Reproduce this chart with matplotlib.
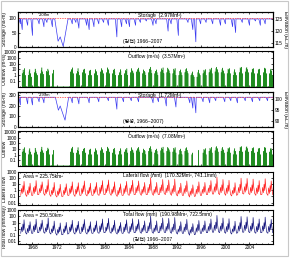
import matplotlib
matplotlib.use("Agg")
import matplotlib.pyplot as plt
import numpy as np
from matplotlib.ticker import FixedLocator, NullFormatter

plt.rcParams['font.family'] = ['Liberation Sans', 'Noto Sans CJK KR']
plt.rcParams['font.size'] = 4

# ---- data ----
years = np.arange(1966, 2008)

# reservoir 1 (storage, ha-m): drawdown dips below the full level
s1_full = 97
s1_dip_t = [1966.0, 1966.3, 1967.2, 1968.0, 1969.1, 1969.9, 1970.4, 1971.3, 1974.6, 1975.2,
            1975.7, 1977.0, 1977.4, 1978.2, 1979.0, 1979.8, 1980.6, 1982.0, 1982.8, 1983.6,
            1984.1, 1985.1, 1985.9, 1986.9, 1988.0, 1988.5, 1990.5, 1991.0, 1992.2, 1993.8,
            1994.6, 1995.1, 1995.9, 1996.8, 1997.9, 1999.2, 2000.0, 2001.2, 2001.7, 2002.8,
            2004.0, 2005.0, 2005.8, 2006.6]
s1_dip_v = [80, 60, 75, 40, 80, 70, 85, 70, 80, 85,
            65, 75, 60, 70, 80, 85, 75, 35, 70, 80,
            70, 75, 85, 90, 75, 80, 55, 80, 40, 85,
            60, 18, 80, 85, 80, 75, 80, 70, 50, 85,
            75, 90, 75, 80]
s1_drought_t = [1971.7, 1972.25, 1972.6, 1973.1, 1973.9]
s1_drought_v = [97, 20, 35, 2, 97]

# reservoir 2 (storage, ha-m)
s2_full = 283
s2_dip_t = [1966.0, 1967.2, 1968.0, 1969.1, 1969.9, 1974.6, 1975.7, 1977.4, 1979.0, 1980.6,
            1982.0, 1983.1, 1984.4, 1985.6, 1988.0, 1988.9, 1990.2, 1991.8, 1994.1, 1994.6,
            1995.1, 1996.3, 1997.4, 1998.4, 1999.9, 2000.9, 2002.0, 2003.3, 2004.5, 2005.7,
            2007.0]
s2_dip_v = [210, 220, 210, 240, 230, 230, 220, 230, 240, 250,
            170, 240, 250, 240, 230, 240, 200, 190, 230, 180,
            135, 240, 230, 250, 240, 250, 230, 250, 240, 250,
            250]
s2_drought_t = [1971.8, 1972.3, 1972.6, 1973.4, 1974.0]
s2_drought_v = [283, 160, 200, 65, 283]

el1_ticks = [115, 120, 125]
el2_ticks = [90, 95, 100]

# outflow (m3/s): spikes within each year, 0 = no release
spike_pos = [0.3, 0.45, 0.56, 0.66, 0.8]
outflow1 = [
    [2, 8, 3, 15, 1], [1, 4, 10, 2, 0.5], [3, 12, 5, 2, 1], [2, 6, 20, 4, 1.5],
    [5, 3, 12, 6, 1], [2, 8, 0, 0, 0], [0, 0, 0, 0, 0], [0, 0, 0, 0, 0],
    [4, 10, 6, 20, 2], [2, 5, 15, 3, 1], [3, 9, 4, 12, 2], [1, 6, 3, 8, 1],
    [2, 10, 5, 3, 1], [4, 15, 8, 5, 2], [3, 20, 10, 6, 2], [2, 8, 12, 4, 1],
    [1, 3, 10, 5, 1], [2, 7, 4, 12, 1], [3, 15, 6, 4, 2], [4, 10, 18, 6, 3],
    [2, 9, 5, 3, 1], [3, 12, 25, 8, 2], [2, 5, 9, 3, 1], [4, 14, 7, 20, 2],
    [3, 18, 10, 6, 2], [2, 12, 6, 15, 1], [1, 5, 9, 3, 1], [3, 10, 15, 5, 2],
    [1, 2, 4, 1, 0.5], [0.5, 3, 8, 2, 1], [2, 8, 4, 10, 1], [3, 12, 6, 18, 2],
    [4, 15, 25, 10, 3], [3, 10, 18, 6, 2], [2, 12, 8, 15, 2], [1, 4, 10, 3, 1],
    [3, 20, 12, 25, 2], [4, 15, 22, 10, 3], [3, 12, 8, 15, 2], [2, 10, 6, 12, 1],
    [3, 18, 9, 14, 2], [2, 8, 12, 5, 1],
]
outflow2 = [
    [3, 10, 4, 18, 2], [1, 5, 12, 3, 1], [2, 14, 6, 3, 1], [3, 8, 22, 5, 2],
    [4, 5, 15, 8, 1], [1, 6, 0, 0, 0], [0, 0, 0, 0, 0], [0, 0, 0, 0, 0],
    [3, 12, 8, 22, 2], [2, 6, 18, 4, 1], [4, 10, 5, 14, 2], [1, 7, 4, 10, 1],
    [3, 12, 6, 4, 1], [5, 18, 9, 6, 2], [4, 22, 12, 7, 3], [2, 9, 14, 5, 1],
    [1, 4, 12, 6, 1], [3, 8, 5, 14, 2], [4, 18, 7, 5, 2], [5, 12, 20, 7, 3],
    [2, 10, 6, 4, 1], [4, 14, 28, 9, 3], [2, 6, 10, 4, 1], [5, 16, 8, 22, 2],
    [4, 20, 12, 7, 3], [3, 14, 7, 18, 2], [1, 6, 10, 4, 1], [4, 12, 18, 6, 2],
    [0, 1, 2, 0, 0], [0, 0, 6, 0, 0], [2, 9, 5, 12, 1], [4, 14, 7, 20, 2],
    [5, 18, 28, 12, 3], [4, 12, 20, 7, 2], [3, 14, 9, 18, 2], [1, 5, 12, 4, 1],
    [4, 22, 14, 28, 3], [5, 18, 25, 12, 3], [4, 14, 9, 18, 2], [3, 12, 7, 14, 1],
    [4, 20, 10, 16, 2], [3, 9, 14, 6, 1],
]

# lateral / total flow (mm), eight values through each year
flow_pos = [0.05, 0.18, 0.3, 0.42, 0.52, 0.6, 0.7, 0.86]
lateral = [
    [0.15, 2, 0.3, 6, 0.5, 30, 2, 0.2], [0.1, 1, 0.2, 4, 0.4, 15, 1.5, 0.15],
    [0.15, 3, 0.3, 5, 0.6, 40, 3, 0.2], [0.2, 2, 0.4, 8, 0.8, 25, 4, 0.3],
    [0.15, 1.5, 0.3, 6, 0.6, 60, 2, 0.2], [0.1, 1, 0.2, 3, 0.4, 20, 1.5, 0.15],
    [0.08, 0.8, 0.15, 2, 0.3, 10, 1, 0.1], [0.1, 1, 0.2, 3, 0.4, 12, 1.5, 0.15],
    [0.15, 2, 0.3, 5, 0.5, 25, 2, 0.2], [0.1, 1.5, 0.25, 4, 0.5, 18, 1.5, 0.15],
    [0.15, 2, 0.3, 6, 0.6, 35, 3, 0.2], [0.12, 1, 0.25, 3, 0.4, 15, 1.2, 0.15],
    [0.15, 1.5, 0.3, 4, 0.5, 20, 2, 0.2], [0.15, 3, 0.3, 7, 0.7, 40, 3, 0.2],
    [0.2, 2, 0.4, 8, 0.8, 50, 4, 0.3], [0.15, 1.5, 0.3, 4, 0.5, 25, 2, 0.2],
    [0.1, 1, 0.2, 3, 0.4, 12, 1.5, 0.15], [0.15, 2, 0.3, 6, 0.6, 30, 2.5, 0.2],
    [0.15, 2.5, 0.3, 7, 0.7, 45, 3, 0.2], [0.2, 3, 0.4, 6, 0.8, 35, 3.5, 0.3],
    [0.15, 1.5, 0.3, 4, 0.5, 20, 2, 0.2], [0.2, 3, 0.4, 10, 1, 120, 5, 0.3],
    [0.15, 1.5, 0.3, 4, 0.5, 20, 1.5, 0.2], [0.2, 3, 0.4, 8, 0.8, 60, 3.5, 0.3],
    [0.2, 2.5, 0.4, 7, 0.8, 50, 4, 0.3], [0.15, 2, 0.3, 6, 0.6, 70, 3, 0.2],
    [0.12, 1, 0.25, 3, 0.4, 15, 1.5, 0.15], [0.15, 2, 0.3, 6, 0.6, 35, 2.5, 0.2],
    [0.08, 0.8, 0.15, 2, 0.3, 8, 1, 0.1], [0.12, 1.5, 0.25, 5, 0.5, 25, 2, 0.15],
    [0.15, 1.5, 0.3, 4, 0.5, 20, 2, 0.2], [0.2, 2.5, 0.4, 7, 0.7, 40, 3.5, 0.25],
    [0.25, 4, 0.5, 12, 1, 150, 6, 0.3], [0.2, 3, 0.4, 8, 0.8, 60, 4, 0.3],
    [0.15, 2.5, 0.3, 7, 0.7, 45, 3, 0.2], [0.12, 1, 0.25, 3, 0.4, 18, 1.5, 0.15],
    [0.2, 3, 0.4, 10, 0.9, 100, 4.5, 0.3], [0.25, 4, 0.5, 12, 1, 90, 6, 0.3],
    [0.2, 3, 0.4, 8, 0.8, 70, 4, 0.3], [0.15, 2.5, 0.3, 7, 0.6, 40, 3, 0.2],
    [0.2, 3, 0.4, 10, 0.9, 80, 4.5, 0.3], [0.15, 2.5, 0.3, 6, 0.6, 35, 3, 0.2],
]
total = [
    [0.2, 2, 0.35, 6, 0.6, 28, 2, 0.25], [0.15, 1.2, 0.25, 4, 0.5, 14, 1.5, 0.2],
    [0.2, 3, 0.35, 5, 0.7, 35, 3, 0.25], [0.25, 2, 0.45, 7, 0.9, 25, 3.5, 0.3],
    [0.2, 1.5, 0.35, 6, 0.7, 55, 2.5, 0.25], [0.15, 1, 0.25, 3, 0.5, 18, 1.5, 0.2],
    [0.1, 0.8, 0.2, 2, 0.35, 9, 1, 0.12], [0.12, 1, 0.25, 3, 0.45, 11, 1.5, 0.15],
    [0.2, 2, 0.35, 5, 0.6, 24, 2, 0.25], [0.15, 1.5, 0.3, 4, 0.55, 16, 1.5, 0.2],
    [0.2, 2, 0.35, 6, 0.7, 32, 3, 0.25], [0.15, 1, 0.3, 3, 0.45, 14, 1.2, 0.2],
    [0.2, 1.5, 0.35, 4, 0.6, 19, 2, 0.25], [0.2, 3, 0.35, 7, 0.8, 38, 3, 0.25],
    [0.25, 2, 0.45, 8, 0.9, 48, 4, 0.3], [0.2, 1.5, 0.35, 4, 0.6, 24, 2, 0.25],
    [0.15, 1, 0.25, 3, 0.45, 11, 1.5, 0.2], [0.2, 2, 0.35, 6, 0.7, 28, 2.5, 0.25],
    [0.2, 2.5, 0.35, 7, 0.8, 42, 3, 0.25], [0.25, 3, 0.45, 6, 0.9, 33, 3.5, 0.3],
    [0.2, 1.5, 0.35, 4, 0.6, 19, 2, 0.25], [0.25, 3, 0.45, 10, 1, 110, 5, 0.3],
    [0.2, 1.5, 0.35, 4, 0.6, 19, 1.5, 0.25], [0.25, 3, 0.45, 8, 0.9, 55, 3.5, 0.3],
    [0.25, 2.5, 0.45, 7, 0.9, 48, 4, 0.3], [0.2, 2, 0.35, 6, 0.7, 65, 3, 0.25],
    [0.15, 1, 0.3, 3, 0.45, 14, 1.5, 0.2], [0.2, 2, 0.35, 6, 0.7, 33, 2.5, 0.25],
    [0.1, 0.8, 0.2, 2, 0.35, 7, 1, 0.12], [0.15, 1.5, 0.3, 5, 0.55, 22, 2, 0.2],
    [0.2, 1.5, 0.35, 4, 0.6, 19, 2, 0.25], [0.25, 2.5, 0.45, 7, 0.8, 38, 3.5, 0.3],
    [0.3, 4, 0.55, 12, 1.1, 140, 6, 0.35], [0.25, 3, 0.45, 8, 0.9, 55, 4, 0.3],
    [0.2, 2.5, 0.35, 7, 0.8, 42, 3, 0.25], [0.15, 1, 0.3, 3, 0.45, 17, 1.5, 0.2],
    [0.25, 3, 0.45, 10, 1, 95, 4.5, 0.3], [0.3, 4, 0.55, 12, 1.1, 85, 6, 0.35],
    [0.25, 3, 0.45, 8, 0.9, 65, 4, 0.3], [0.2, 2.5, 0.35, 7, 0.7, 38, 3, 0.25],
    [0.25, 3, 0.45, 10, 1, 75, 4.5, 0.3], [0.2, 2.5, 0.35, 6, 0.7, 33, 3, 0.25],
]

year_ticks = np.arange(1968, 2008, 4)


def storage_line(full, dip_t, dip_v, dr_t, dr_v):
    pts = [(1966.0, full)]
    for t, v in zip(dip_t, dip_v):
        pts += [(t - 0.25, full), (t, v), (t + 0.06, full)]
    pts += list(zip(dr_t, dr_v))
    pts += [(2008.0, full)]
    pts.sort()
    t, v = zip(*pts)
    return np.array(t), np.array(v)


def spike_line(vals, base=0.01):
    t, v = [], []
    for y, row in zip(years, vals):
        for p, h in zip(spike_pos, row):
            if h <= 0:
                continue
            t += [y + p - 0.015, y + p, y + p + 0.015]
            v += [base, h, base]
    return t, v


def flow_line(vals):
    t, v = [], []
    for y, row in zip(years, vals):
        for p, h in zip(flow_pos, row):
            t.append(y + p)
            v.append(h)
    return t, v


fig = plt.figure(figsize=(2.95, 2.59), dpi=100)
W, H = 295.0, 259.0
left, right = 18, 273
panels = [(12, 47), (51, 87), (92, 127), (131, 166), (172, 205), (210, 244)]
axes = []
for top, bot in panels:
    ax = fig.add_axes([left / W, 1 - bot / H, (right - left) / W, (bot - top) / H])
    axes.append(ax)

for i, ax in enumerate(axes):
    ax.set_xlim(1965.6, 2007.9)
    ax.set_xticks(year_ticks)
    ax.xaxis.set_minor_locator(FixedLocator(years))
    ax.tick_params(which='both', direction='in', top=True, right=True, length=1.5,
                   width=0.5, labelsize=3.4, pad=1)
    ax.tick_params(which='minor', length=1)
    if i < 5:
        ax.tick_params(labelbottom=False)
    for s in ax.spines.values():
        s.set_linewidth(0.8)

# storage panels
for ax, full, dt, dv, drt, drv, ylim, yt, dash, elv, elt, lab, note, extra in [
    (axes[0], s1_full, s1_dip_t, s1_dip_v, s1_drought_t, s1_drought_v, (0, 121), [0, 50, 100], 100,
     (113.3, 127.9), el1_ticks, 'Storage  (2.97Mm³)', '(감천) 1966~2007', '2.08m'),
    (axes[2], s2_full, s2_dip_t, s2_dip_v, s2_drought_t, s2_drought_v, (0, 333), [0, 100, 200, 300], 288,
     (87.3, 103.2), el2_ticks, 'Storage  (1.72Mm³)', '(병성, 1966~2007)', '2.99m'),
]:
    t, v = storage_line(full, dt, dv, drt, drv)
    ax.plot(t, v, color='#3a3af0', lw=0.5)
    ax.axhline(dash, color='#ff3030', lw=0.5, ls=(0, (2, 1.5)))
    ax.set_ylim(*ylim)
    ax.set_yticks(yt)
    ax.set_ylabel('Storage (ha-m)', fontsize=3.6)
    ax.yaxis.set_label_coords(-0.045, 0.5)
    ax.text(0.47, 0.9, lab, transform=ax.transAxes, fontsize=3.6, va='center')
    ax.text(0.41, 0.15, note, transform=ax.transAxes, fontsize=3.6, va='center')
    ax.text(0.08, 0.9, extra, transform=ax.transAxes, fontsize=3, va='center')
    ax2 = ax.twinx()
    ax2.set_ylim(*elv)
    ax2.set_yticks(elt)
    ax2.tick_params(direction='in', length=1.5, width=0.5, labelsize=3.4, pad=1)
    ax2.set_ylabel('Elevation (EL.m)', fontsize=3.6, rotation=270)
    ax2.yaxis.set_label_coords(1.06, 0.5)

# outflow panels
for ax, vals, lab, ylab in [(axes[1], outflow1, 'Outflow (m³/s)  (3.57Mm³)', 'Outflow (m³/s)'),
                            (axes[3], outflow2, 'Outflow (m³/s)  (7.08Mm³)', 'Outflow')]:
    t, v = spike_line(vals)
    ax.plot(t, v, color='#1f8c1f', lw=0.35)
    ax.set_yscale('log')
    ax.set_ylim(0.0093, 14900)
    ax.set_yticks([0.1, 1, 10, 100, 1000, 10000])
    ax.set_yticklabels(['0.1', '1', '10', '100', '1000', '10000'])
    ax.yaxis.set_minor_formatter(NullFormatter())
    ax.set_ylabel(ylab, fontsize=3.6)
    ax.yaxis.set_label_coords(-0.045, 0.5)
    ax.text(0.43, 0.85, lab, transform=ax.transAxes, fontsize=3.6, va='center')

# lateral / total flow panels
for ax, vals, color, lab, area, ylab in [
    (axes[4], lateral, '#ff1a1a', 'Lateral flow (mm)  (170.32Mm³, 741.1mm)', 'Area = 225.75km²', 'Lateral flow'),
    (axes[5], total, '#10107a', 'Total flow (mm)  (190.98Mm³, 722.5mm)', 'Area = 250.50km²', 'Total flow (mm/day)'),
]:
    t, v = flow_line(vals)
    ax.plot(t, v, color=color, lw=0.45)
    ax.set_yscale('log')
    ax.set_ylim(0.004, 1000)
    ax.set_yticks([0.01, 0.1, 1, 10, 100, 1000])
    ax.set_yticklabels(['0.01', '0.1', '1', '10', '100', '1000'])
    ax.yaxis.set_minor_formatter(NullFormatter())
    ax.set_ylabel(ylab, fontsize=3.6)
    ax.yaxis.set_label_coords(-0.045, 0.5)
    ax.text(0.41, 0.88, lab, transform=ax.transAxes, fontsize=3.6, va='center')
    ax.text(0.02, 0.85, area, transform=ax.transAxes, fontsize=3.6, va='center')
axes[5].text(0.45, 0.12, '(감천) 1966~2007', transform=axes[5].transAxes, fontsize=3.6, va='center')

# light frame around the figure
fig.patches.append(plt.Rectangle((0.005, 0.01), 0.97, 0.985, transform=fig.transFigure,
                                 fill=False, edgecolor='#c8c8c8', lw=0.8))

fig.savefig('out.png', dpi=100)
